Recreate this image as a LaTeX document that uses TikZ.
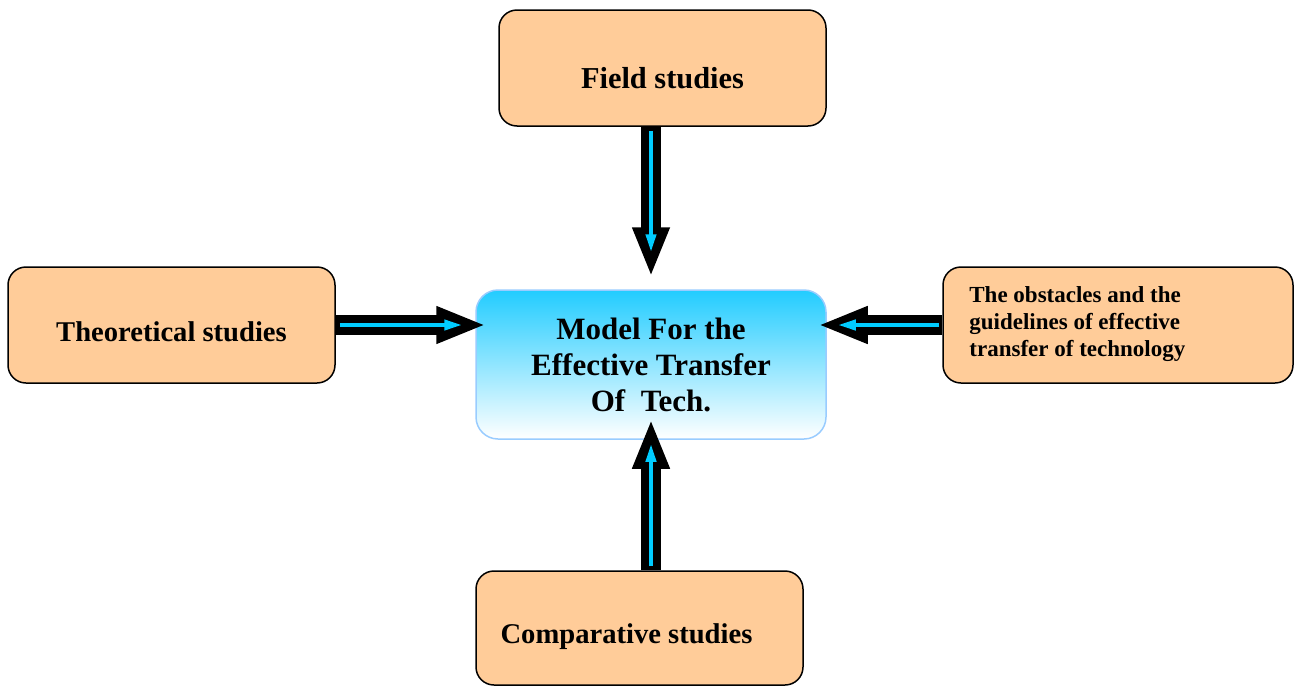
\documentclass[tikz,border=0pt]{standalone}
\usepackage{fontspec}
\setmainfont{Liberation Serif}
\usetikzlibrary{arrows.meta}
\definecolor{peach}{HTML}{FFCC99}
\definecolor{skyedge}{HTML}{99CCFF}
\definecolor{skytop}{HTML}{22CCFF}
\definecolor{arrowcyan}{HTML}{00CCFF}
\tikzset{
  studybox/.style={draw=black,line width=0.75pt,fill=peach,rounded corners=9pt,
    minimum width=163.5pt,minimum height=58pt,inner sep=0pt},
  boxlabel/.style={font=\fontsize{14.3}{18}\selectfont\bfseries,inner sep=0pt},
  bigarrow/.style={line width=10pt,black,-{Triangle[length=25pt,width=17pt]}},
  thinarrow/.style={line width=2pt,arrowcyan,-{Triangle[length=9pt,width=5pt]}}
}
\begin{document}
\begin{tikzpicture}[x=0.5pt,y=-0.5pt]
    \useasboundingbox (0,0) rectangle (1297,686);

    % Central model
    \node[draw=skyedge,line width=0.75pt,rounded corners=11pt,top color=skytop,bottom color=white,
      minimum width=175pt,minimum height=74.5pt,inner sep=0pt] (model) at (651,364.5) {};
    \node[align=center,font=\fontsize{15.5}{18}\selectfont\bfseries,inner sep=0pt] (modeltext) at (model.center)
      {Model For the\\Effective Transfer\\Of~~Tech.};

    % Surrounding studies
    \node[studybox] (field) at (662.5,68) {};
    \node[boxlabel,font=\fontsize{15.2}{18}\selectfont\bfseries] (fieldtext) at ([yshift=-5pt]field.center) {Field studies};

    \node[studybox] (theo) at (171.5,325) {};
    \node[boxlabel] (theotext) at ([yshift=-3.5pt]theo.center) {Theoretical studies};

    \node[studybox,minimum width=175pt] (obst) at (1118,325) {};
    \node[align=left,anchor=west,font=\fontsize{11.5}{13.5}\selectfont\bfseries,inner sep=0pt] (obsttext) at (969,324)
      {The obstacles and the\\guidelines of effective\\transfer of technology};

    \node[studybox,minimum height=57pt] (comp) at (639.5,628) {};
    \node[boxlabel] (comptext) at ([xshift=-6.5pt,yshift=-4.5pt]comp.center) {Comparative studies};

    % Arrows into the model
    \draw[bigarrow,shorten >=6pt] (model.north |- field.south) -- (model.north);
    \draw[thinarrow,shorten <=2pt,shorten >=18.5pt] (model.north |- field.south) -- (model.north);

    \draw[bigarrow,shorten >=-5.5pt] (theo.east) -- (model.west |- theo.east);
    \draw[thinarrow,shorten <=2pt,shorten >=6.5pt] (theo.east) -- (model.west |- theo.east);

    \draw[bigarrow,shorten >=-4.5pt] (obst.west) -- (model.east |- obst.west);
    \draw[thinarrow,shorten <=1.5pt,shorten >=5.5pt] (obst.west) -- (model.east |- obst.west);

    \draw[bigarrow,shorten >=-10.5pt] (model.south |- comp.north) -- (model.south);
    \draw[thinarrow,shorten <=2pt,shorten >=2pt] (model.south |- comp.north) -- (model.south);
\end{tikzpicture}
\end{document}
